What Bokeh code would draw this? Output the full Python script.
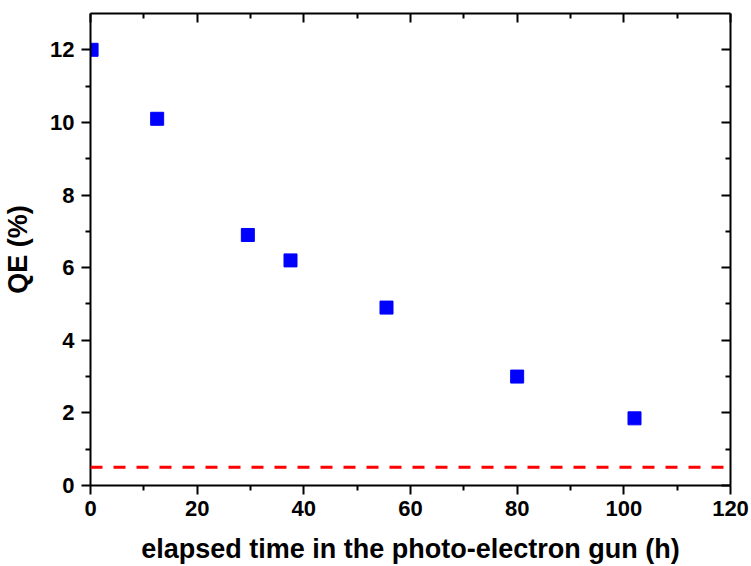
from bokeh.plotting import figure
from bokeh.models import Range1d, FixedTicker, LinearAxis, Span, CustomJSTickFormatter
from bokeh.embed import file_html
from bokeh.resources import INLINE

# data
elapsed_h = [0.2, 12.5, 29.5, 37.5, 55.5, 80.0, 102.0]
qe_percent = [12.0, 10.1, 6.9, 6.2, 4.9, 3.0, 1.85]
threshold = 0.5

x_major = [0, 20, 40, 60, 80, 100, 120]
x_minor = [10, 30, 50, 70, 90, 110]
y_major = [0, 2, 4, 6, 8, 10, 12]
y_minor = [1, 3, 5, 7, 9, 11]

FONT = "Liberation Sans"

p = figure(width=751, height=566, output_backend="svg", toolbar_location=None,
           x_range=Range1d(0, 120), y_range=Range1d(0, 13),
           min_border_left=90, min_border_right=21, min_border_top=13,
           min_border_bottom=81, x_axis_label="elapsed time in the photo-electron gun (h)",
           y_axis_label="QE (%)")
p.outline_line_color = None
p.xgrid.visible = False
p.ygrid.visible = False
p.background_fill_color = "white"
p.border_fill_color = "white"


def style(ax, ticks, minor, show_labels, inside):
    ax.ticker = FixedTicker(ticks=ticks, minor_ticks=minor)
    ax.axis_line_color = "black"
    ax.axis_line_width = 2
    ax.major_tick_line_color = "black"
    ax.minor_tick_line_color = "black"
    ax.major_tick_line_width = 2
    ax.minor_tick_line_width = 2
    if inside:
        ax.major_tick_in = 9
        ax.major_tick_out = 0
        ax.minor_tick_in = 5
        ax.minor_tick_out = 0
    else:
        ax.major_tick_in = 0
        ax.major_tick_out = 9
        ax.minor_tick_in = 0
        ax.minor_tick_out = 5
    ax.major_label_text_font = FONT
    ax.major_label_text_font_style = "bold"
    ax.major_label_text_color = "black"
    ax.axis_label_text_font = FONT
    ax.axis_label_text_font_style = "bold"
    ax.axis_label_text_color = "black"
    ax.axis_label_text_font_size = "27px"
    ax.major_label_text_font_size = "22px"
    if not show_labels:
        ax.formatter = CustomJSTickFormatter(code="return ''")
        ax.major_label_standoff = 0


style(p.xaxis[0], x_major, x_minor, True, False)
style(p.yaxis[0], y_major, y_minor, True, False)
p.xaxis[0].major_label_standoff = 6
p.xaxis[0].axis_label_standoff = 15
p.yaxis[0].major_label_standoff = 7
p.yaxis[0].axis_label_standoff = 14

top = LinearAxis()
right = LinearAxis()
style(top, x_major, x_minor, False, True)
style(right, y_major, y_minor, False, True)
p.add_layout(top, "above")
p.add_layout(right, "right")

p.add_layout(Span(location=threshold, dimension="width", line_color="#ff0000",
                  line_width=3, line_dash="12 11"))

p.scatter(elapsed_h, qe_percent, marker="square", size=13,
          fill_color="#0000ff", line_color="#0000ff")

open("out.html", "w").write(file_html(p, INLINE))
